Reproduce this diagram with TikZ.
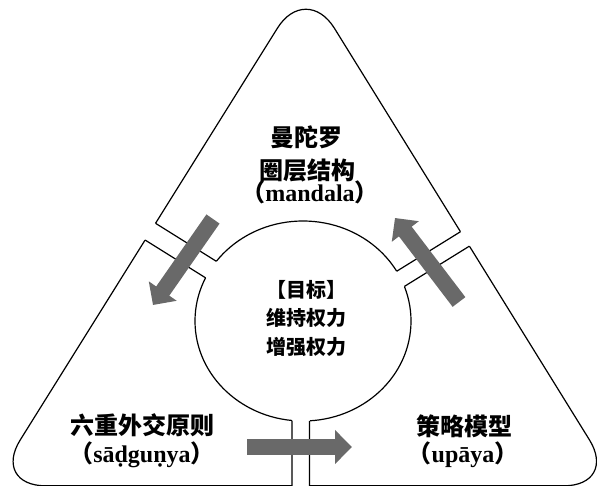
\documentclass[tikz,border=0pt]{standalone}
\usepackage{fontspec}
\setmainfont{Liberation Serif}
\newfontfamily\cjk{Noto Sans CJK SC}
\usetikzlibrary{arrows.meta,intersections}
\definecolor{arrowgray}{RGB}{105,105,105}
\begin{document}
\begin{tikzpicture}[x=1pt,y=-1pt,
  outline/.style={line width=1.2pt,black},
  bigarrow/.style={line width=16pt,arrowgray,-{Triangle[length=17pt,width=33pt]}},
  cjkbig/.style={font=\cjk\bfseries\fontsize{24pt}{28pt}\selectfont,anchor=base,inner sep=0pt},
  cjksmall/.style={font=\cjk\bfseries\fontsize{20pt}{24pt}\selectfont,anchor=base,inner sep=0pt},
  latin/.style={font=\bfseries\fontsize{24pt}{28pt}\selectfont,anchor=base,inner sep=0pt}]
\useasboundingbox (0,0) rectangle (597,486);
\clip (0,0) rectangle (597,486);
% outer rounded triangle and central ellipse
\draw[outline,name path=tri,rounded corners=54pt]
  (305,485.8) -- (617.9,485.8) -- (306,-17.6) -- (-8.4,485.8) -- cycle;
\coordinate (C) at (303,321);
\draw[outline,name path=ell] (C) ellipse [x radius=108pt,y radius=100pt];
% channel guide lines
\coordinate (bi1) at (292,330);   \coordinate (bo1) at (292,500);
\coordinate (bi2) at (309.5,330); \coordinate (bo2) at (309.5,500);
\coordinate (li1) at (256.8,286.6); \coordinate (lo1) at (129.6,207.1);
\coordinate (li2) at (246.8,303.6); \coordinate (lo2) at (119.6,224.1);
\coordinate (ri1) at (358,295.2); \coordinate (ro1) at (485.5,216.2);
\coordinate (ri2) at (366,310.2); \coordinate (ro2) at (493.5,231.2);
\fill[white] (bi1) -- (bo1) -- (bo2) -- (bi2) -- cycle;
\fill[white] (li1) -- (lo1) -- (lo2) -- (li2) -- cycle;
\fill[white] (ri1) -- (ro1) -- (ro2) -- (ri2) -- cycle;
\path[name path=cB1] (bi1) -- (bo1);
\path[name path=cB2] (bi2) -- (bo2);
\path[name path=cL1] (li1) -- (lo1);
\path[name path=cL2] (li2) -- (lo2);
\path[name path=cR1] (ri1) -- (ro1);
\path[name path=cR2] (ri2) -- (ro2);
\foreach \c in {B1,B2,L1,L2,R1,R2}{
  \path[name intersections={of=tri and c\c,by=t\c}];
  \path[name intersections={of=ell and c\c,by=e\c}];
  \draw[outline] (e\c) -- (t\c);
}
% block arrows
\coordinate (la1) at (213,219); \coordinate (la2) at (153,305);
\coordinate (ra1) at (459,302); \coordinate (ra2) at (395,218);
\coordinate (ba1) at (247,447); \coordinate (ba2) at (352,447);
\draw[bigarrow] (la1) -- (la2);
\draw[bigarrow] (ra1) -- (ra2);
\draw[bigarrow] (ba1) -- (ba2);
% texts
\node[cjkbig] (t1) at (306,147) {曼陀罗};
\node[cjkbig] (t2) at (307,180) {圈层结构};
\node[latin] (t3) at (310,202) {{\cjk （}mandala{\cjk ）}};
\node[cjksmall] (c1) at (306,298) {【目标】};
\node[cjksmall] (c2) at (306,326) {维持权力};
\node[cjksmall] (c3) at (306,354) {增强权力};
\node[cjkbig] (l1) at (142,434) {六重外交原则};
\node[latin] (l2) at (142,462) {{\cjk （}sāḍguṇya{\cjk ）}};
\node[cjkbig] (r1) at (464,435) {策略模型};
\node[latin] (r2) at (463,462) {{\cjk （}upāya{\cjk ）}};
\end{tikzpicture}
\end{document}
